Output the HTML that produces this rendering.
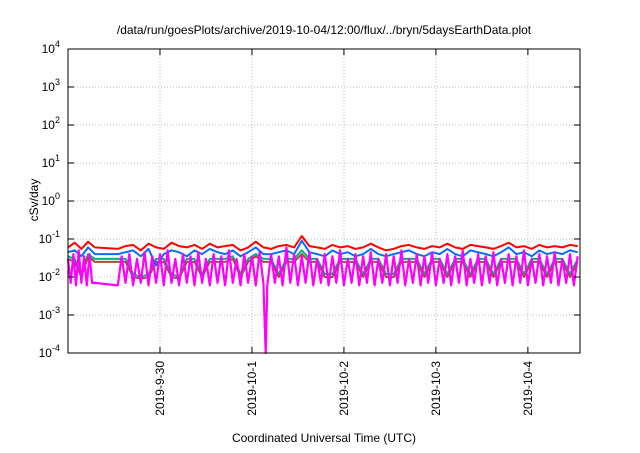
<!DOCTYPE html>
<html><head><meta charset="utf-8"><style>
body{margin:0;background:#fff;width:640px;height:448px;overflow:hidden;font-family:"Liberation Sans",sans-serif}
</style></head><body>
<svg id="chart" width="640" height="448" xmlns="http://www.w3.org/2000/svg" font-family="Liberation Sans, sans-serif">
<text x="324" y="34" font-size="12" text-anchor="middle">/data/run/goesPlots/archive/2019-10-04/12:00/flux/../bryn/5daysEarthData.plot</text>
<text transform="translate(38,200) rotate(-90)" font-size="12" text-anchor="middle">cSv/day</text>
<text x="324" y="442" font-size="12" text-anchor="middle">Coordinated Universal Time (UTC)</text>
<g id="grid"></g><g id="series"></g><g id="axes"></g>
</svg>
<script>
const xTickLabels=["2019-9-30","2019-10-1","2019-10-2","2019-10-3","2019-10-4"];
const xTickHours=[24,48,72,96,120];
const yTickExp=[4,3,2,1,0,-1,-2,-3,-4];
const times=[0,1.75,3.5,5.25,7,13,15,17,19,21,23,25,27,29,31,33,35,37,39,41,43,45,47,49,51,53,55,57,59,61,63,65,67,69,71,73,75,77,79,81,83,85,87,89,91,93,95,97,99,101,103,105,107,109,111,113,115,117,119,121,123,125,127,129,131,133];
const red=[0.06,0.08,0.055,0.085,0.06,0.055,0.065,0.07,0.05,0.075,0.06,0.055,0.08,0.065,0.06,0.07,0.055,0.075,0.06,0.065,0.07,0.05,0.06,0.085,0.06,0.055,0.065,0.07,0.06,0.12,0.065,0.06,0.055,0.07,0.06,0.065,0.055,0.06,0.075,0.06,0.05,0.055,0.065,0.07,0.06,0.055,0.065,0.06,0.075,0.06,0.055,0.07,0.065,0.06,0.055,0.065,0.08,0.06,0.065,0.055,0.07,0.06,0.065,0.06,0.07,0.065];
const blue=[0.045,0.05,0.035,0.06,0.04,0.04,0.045,0.05,0.035,0.055,0.02,0.04,0.05,0.045,0.035,0.05,0.04,0.055,0.045,0.04,0.05,0.035,0.045,0.06,0.04,0.04,0.045,0.05,0.04,0.09,0.045,0.04,0.035,0.05,0.04,0.045,0.035,0.04,0.055,0.04,0.035,0.04,0.045,0.05,0.04,0.035,0.045,0.04,0.055,0.04,0.035,0.05,0.045,0.04,0.035,0.045,0.06,0.04,0.045,0.035,0.05,0.04,0.045,0.04,0.05,0.045];
const green=[0.035,0.03,0.012,0.04,0.03,0.03,0.03,0.012,0.01,0.012,0.03,0.03,0.012,0.01,0.03,0.03,0.012,0.03,0.03,0.03,0.035,0.012,0.03,0.04,0.03,0.03,0.012,0.03,0.03,0.05,0.03,0.03,0.012,0.012,0.03,0.03,0.03,0.012,0.03,0.03,0.012,0.012,0.03,0.03,0.03,0.012,0.03,0.03,0.012,0.03,0.03,0.012,0.03,0.03,0.012,0.03,0.03,0.03,0.012,0.03,0.03,0.012,0.03,0.03,0.012,0.03];
const brown=[0.03,0.025,0.01,0.035,0.025,0.025,0.025,0.01,0.009,0.01,0.025,0.025,0.01,0.009,0.025,0.025,0.01,0.025,0.025,0.025,0.03,0.01,0.025,0.035,0.025,0.025,0.01,0.025,0.025,0.04,0.025,0.025,0.01,0.01,0.025,0.025,0.025,0.01,0.025,0.025,0.01,0.01,0.025,0.025,0.025,0.01,0.025,0.025,0.01,0.025,0.025,0.01,0.025,0.025,0.01,0.025,0.025,0.025,0.01,0.025,0.025,0.01,0.025,0.025,0.01,0.025];
const magTimes=[0,0.7,1.4,2.1,2.8,3.5,4.2,4.9,5.6,6.3,7,13,14,15,16,17,18,19,20,21,22,23,24,25,26,27,28,29,30,31,32,33,34,35,36,37,38,39,40,41,42,43,44,45,46,47,48,49,50,51,51.6,52,53,54,55,56,57,58,59,60,61,62,63,64,65,66,67,68,69,70,71,72,73,74,75,76,77,78,79,80,81,82,83,84,85,86,87,88,89,90,91,92,93,94,95,96,97,98,99,100,101,102,103,104,105,106,107,108,109,110,111,112,113,114,115,116,117,118,119,120,121,122,123,124,125,126,127,128,129,130,131,132,133];
const magenta=[0.03,0.007,0.04,0.006,0.05,0.007,0.035,0.006,0.04,0.007,0.007,
0.006,0.035,0.007,0.04,0.006,0.03,0.007,0.045,0.006,0.035,
0.007,0.04,0.006,0.05,0.007,0.03,0.006,0.04,0.007,0.035,
0.006,0.045,0.007,0.03,0.006,0.04,0.007,0.035,0.006,0.05,
0.007,0.03,0.006,0.04,0.007,0.035,0.006,0.045,0.007,
0.00005,
0.006,0.04,0.007,0.035,0.006,0.06,0.007,0.04,0.006,0.035,
0.007,0.045,0.006,0.03,0.007,0.04,0.006,0.035,0.007,0.05,
0.006,0.03,0.007,0.04,0.006,0.035,0.007,0.045,0.006,0.03,
0.007,0.04,0.006,0.035,0.007,0.05,0.006,0.03,0.007,0.04,
0.006,0.035,0.007,0.045,0.006,0.03,0.007,0.04,0.006,0.035,
0.007,0.05,0.006,0.03,0.007,0.04,0.006,0.035,0.007,0.045,
0.006,0.03,0.007,0.04,0.006,0.035,0.007,0.05,0.006,0.03,
0.007,0.04,0.006,0.035,0.007,0.045,0.006,0.03,0.007,0.04,
0.006,0.035];
const L=68,R=580,T=49,B=353,HMAX=133.6;
const NS="http://www.w3.org/2000/svg";
function xs(h){return L+(R-L)*h/HMAX;}
function ys(v){const e=Math.log10(Math.max(v,1e-5));return T+(4-e)*(B-T)/8;}
function mk(tag,attrs,parent){const e=document.createElementNS(NS,tag);for(const k in attrs)e.setAttribute(k,attrs[k]);parent.appendChild(e);return e;}
const grid=document.getElementById('grid'),axes=document.getElementById('axes'),ser=document.getElementById('series');
yTickExp.forEach(e=>{const y=ys(Math.pow(10,e));
 if(e<4&&e>-4){const g=mk('line',{x1:L,x2:R,y1:y,y2:y,stroke:'#bbb','stroke-dasharray':'1,2','stroke-width':1},grid);
 
 }
 const t=mk('text',{x:L-8,y:y+4,'font-size':12,'text-anchor':'end'},axes);
 
 
 t.textContent='10';const s=mk('tspan',{dy:-6,'font-size':9},t);s.textContent=String(e);
 mk('line',{x1:L,x2:L+6,y1:y,y2:y,stroke:'#000'},axes);mk('line',{x1:R,x2:R-6,y1:y,y2:y,stroke:'#000'},axes);
});
xTickHours.forEach((h,i)=>{const x=xs(h);
 const g=mk('line',{x1:x,x2:x,y1:T,y2:B,stroke:'#bbb','stroke-dasharray':'1,2'},grid);
 
 
 mk('line',{x1:x,x2:x,y1:B,y2:B-6,stroke:'#000'},axes);mk('line',{x1:x,x2:x,y1:T,y2:T+6,stroke:'#000'},axes);
 const t=mk('text',{transform:`translate(${x+4},${B+8}) rotate(-90)`,'font-size':12,'text-anchor':'end'},axes);
 
 
 t.textContent=xTickLabels[i];
});
const frame=mk('rect',{x:L,y:T,width:R-L,height:B-T,fill:'none',stroke:'#000','stroke-width':1},axes);


const list=[['red',times,red,'#ff0000'],['green',times,green,'#00b08a'],['brown',times,brown,'#a0522d'],['blue',times,blue,'#0a6cff'],['magenta',magTimes,magenta,'#ff00ff']];
list.forEach(([n,ts,vals,c])=>{const n2=Math.min(vals.length,ts.length);const pts=[];
 for(let i=0;i<n2;i++)pts.push(xs(ts[i]).toFixed(1)+','+Math.min(ys(vals[i]),B).toFixed(1));
 const p=mk('polyline',{points:pts.join(' '),fill:'none',stroke:c,'stroke-width':n==='magenta'?2.2:2,'stroke-linejoin':'round'},ser);
 
 
});
</script>
</body></html>
